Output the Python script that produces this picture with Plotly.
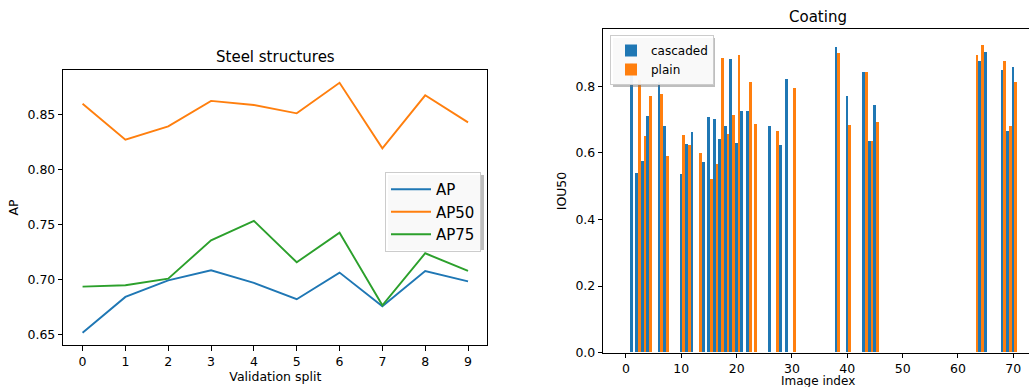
import plotly.graph_objects as go

# ---------------- data ----------------
splits = [0, 1, 2, 3, 4, 5, 6, 7, 8, 9]
ap = [0.6518, 0.6843, 0.6994, 0.7085, 0.6970, 0.6822, 0.7064, 0.6758, 0.7079, 0.6985]
ap50 = [0.8600, 0.8273, 0.8394, 0.8625, 0.8588, 0.8512, 0.8790, 0.8194, 0.8676, 0.8430]
ap75 = [0.6937, 0.6949, 0.7009, 0.7358, 0.7534, 0.7158, 0.7427, 0.6767, 0.7240, 0.7079]

image_index = [1, 2, 3, 4, 6, 7, 10, 11, 12, 13, 14, 15, 16, 17, 18, 19, 20, 21, 22, 23,
               26, 27, 28, 29, 30, 38, 40, 43, 44, 45, 63, 64, 65, 68, 69, 70]
cascaded = [0.870, 0.539, 0.576, 0.711, 0.813, 0.681, 0.537, 0.627, 0.663, None, 0.573, 0.708,
            0.701, 0.641, 0.681, 0.882, 0.630, 0.726, 0.726, None,
            0.681, None, 0.624, 0.822, None, 0.918, 0.771, 0.843, 0.636, 0.744,
            None, 0.876, 0.903, 0.849, 0.666, 0.858]
plain = [None, 0.819, 0.651, 0.771, 0.777, 0.590, 0.653, 0.624, None, 0.600, None, 0.521,
         0.567, 0.885, 0.656, 0.714, 0.894, None, 0.813, 0.686,
         None, 0.666, None, None, 0.795, 0.900, 0.684, 0.843, 0.636, 0.693,
         0.894, 0.924, None, 0.876, 0.681, 0.813]

left_yticks = [0.65, 0.70, 0.75, 0.80, 0.85]
right_xticks = [0, 10, 20, 30, 40, 50, 60, 70]
right_yticks = [0.0, 0.2, 0.4, 0.6, 0.8]

# ---------------- figure ----------------
W, H = 1029, 387
BLUE, ORANGE, GREEN = "#1f77b4", "#ff7f0e", "#2ca02c"
FONT = "DejaVu Sans"

fig = go.Figure()
for name, vals, col in [("AP", ap, BLUE), ("AP50", ap50, ORANGE), ("AP75", ap75, GREEN)]:
    fig.add_trace(go.Scatter(x=splits, y=vals, mode="lines", name=name,
                             line=dict(color=col, width=1.9),
                             xaxis="x", yaxis="y", legend="legend"))

fig.add_trace(go.Bar(x=image_index, y=cascaded, name="cascaded", width=0.5, offset=-0.25,
                     marker=dict(color=BLUE, line=dict(width=0)),
                     xaxis="x2", yaxis="y2", legend="legend2"))
fig.add_trace(go.Bar(x=image_index, y=plain, name="plain", width=0.5, offset=0.25,
                     marker=dict(color=ORANGE, line=dict(width=0)),
                     xaxis="x2", yaxis="y2", legend="legend2"))

def px_x(p):
    return p / W

def px_y(p):
    return 1 - p / H

axis_common = dict(showline=True, linecolor="black", linewidth=1, ticks="outside",
                   ticklen=4.5, tickwidth=1, tickcolor="black", showgrid=False,
                   zeroline=False, automargin=False,
                   tickfont=dict(family=FONT, size=12.5, color="black"))

fig.update_layout(
    width=W, height=H, autosize=False,
    margin=dict(l=0, r=0, t=0, b=0),
    plot_bgcolor="white", paper_bgcolor="white",
    barmode="overlay", bargap=0,
    font=dict(family=FONT, size=12.5, color="black"),
    xaxis=dict(domain=[px_x(63.3), px_x(487.3)], range=[-0.45, 9.45], tickvals=splits,
               anchor="y", mirror=True,
               title=dict(text="Validation split", standoff=4,
                          font=dict(family=FONT, size=12.5, color="black")),
               **axis_common),
    yaxis=dict(domain=[px_y(345), px_y(70)], range=[0.6406, 0.8906], tickvals=left_yticks,
               tickformat=".2f", anchor="x", mirror=True,
               title=dict(text="AP", standoff=6,
                          font=dict(family=FONT, size=12.5, color="black")),
               **axis_common),
    xaxis2=dict(domain=[px_x(603.3), 1.0], range=[-4.1, 72.84], tickvals=right_xticks,
                anchor="y2", mirror=True, **axis_common),
    yaxis2=dict(domain=[px_y(352.7), px_y(29.3)], range=[0, 0.971], tickvals=right_yticks,
                tickformat=".1f", anchor="x2", mirror=False,
                title=dict(text="IOU50", standoff=6,
                           font=dict(family=FONT, size=12.5, color="black")),
                **axis_common),
    legend=dict(x=px_x(385), y=px_y(172), xanchor="left", yanchor="top",
                bgcolor="rgba(255,255,255,0.9)", bordercolor="#cccccc", borderwidth=1,
                itemwidth=40,
                font=dict(family=FONT, size=15, color="black"), tracegroupgap=0),
    legend2=dict(x=px_x(610), y=px_y(35), xanchor="left", yanchor="top",
                 bgcolor="rgba(255,255,255,0.9)", bordercolor="#cccccc", borderwidth=1,
                 font=dict(family=FONT, size=12, color="black"), tracegroupgap=0),
    showlegend=True,
)

fig.add_annotation(text="Steel structures", x=px_x(275.3), y=px_y(57), xref="paper", yref="paper",
                   showarrow=False, xanchor="center", yanchor="middle",
                   font=dict(family=FONT, size=15, color="black"))
fig.add_annotation(text="Coating", x=px_x(818), y=px_y(17), xref="paper", yref="paper",
                   showarrow=False, xanchor="center", yanchor="middle",
                   font=dict(family=FONT, size=15, color="black"))
# right x-axis title (the reference crops it at the bottom edge)
fig.add_annotation(text="Image index", x=px_x(818), y=px_y(380.5), xref="paper", yref="paper",
                   showarrow=False, xanchor="center", yanchor="middle", borderpad=0,
                   font=dict(family=FONT, size=12, color="black"))

# legend shadows
fig.add_shape(type="rect", xref="paper", yref="paper", layer="above",
              x0=px_x(388), x1=px_x(484), y0=px_y(250), y1=px_y(175),
              fillcolor="rgba(110,110,110,0.45)", line=dict(width=0))
fig.add_shape(type="rect", xref="paper", yref="paper", layer="above",
              x0=px_x(613), x1=px_x(715), y0=px_y(87), y1=px_y(38),
              fillcolor="rgba(110,110,110,0.45)", line=dict(width=0))

fig.write_html("out.html", config={"displayModeBar": False},
               post_script="document.body.style.margin='0';")
